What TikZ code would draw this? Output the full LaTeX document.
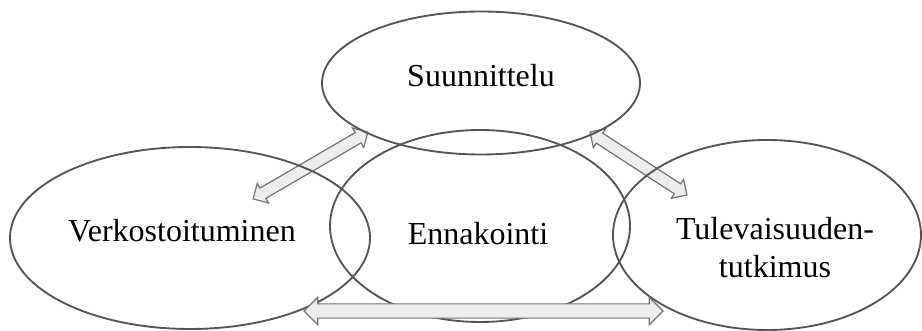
\documentclass[tikz,border=0pt]{standalone}
\usepackage{fontspec}
\setmainfont{Liberation Serif}
\usetikzlibrary{shapes.geometric,shapes.arrows,calc}
\definecolor{ringline}{RGB}{85,85,85}
\definecolor{arrowfill}{RGB}{237,237,237}
\definecolor{arrowline}{RGB}{115,115,115}
\tikzset{
  ring/.style={ellipse, draw=ringline, line width=1.4pt, inner sep=0pt},
  word/.style={font=\fontsize{24}{28.5}\selectfont, inner sep=0pt, align=center},
  linkarrow/.style={double arrow, draw=arrowline, fill=arrowfill, line width=0.9pt,
    inner xsep=0pt, inner ysep=#1, double arrow head extend=#1, minimum width=1pt}
}
\begin{document}
\begin{tikzpicture}[x=0.75pt,y=0.75pt,yscale=-1,xscale=1]
\useasboundingbox (0,0) rectangle (922,331);
% arrow end points
\coordinate (verk-tip) at (253,199);
\coordinate (suun-tipL) at (368,132);
\coordinate (suun-tipR) at (590,132);
\coordinate (tule-tip) at (687,195);
\coordinate (base-L) at (304,311);
\coordinate (base-R) at (663,311);
% diagonal arrows
\path let \p1 = ($(suun-tipL)-(verk-tip)$), \n1 = {veclen(\x1,\y1)}, \n2 = {atan2(\y1,\x1)} in
  node[linkarrow=4pt, rotate=-\n2, minimum height=\n1] (arrVS) at ($(verk-tip)!0.5!(suun-tipL)$) {};
\path let \p1 = ($(tule-tip)-(suun-tipR)$), \n1 = {veclen(\x1,\y1)}, \n2 = {atan2(\y1,\x1)} in
  node[linkarrow=4pt, rotate=-\n2, minimum height=\n1] (arrST) at ($(suun-tipR)!0.5!(tule-tip)$) {};
% ellipses
\node[ring, minimum width=238.5pt, minimum height=107.25pt] (suun) at (481,83) {};
\node[ring, minimum width=225pt, minimum height=144pt] (enna) at (480,226) {};
\node[ring, minimum width=270pt, minimum height=136.5pt] (verk) at (190,238) {};
\node[ring, minimum width=231pt, minimum height=142.5pt] (tule) at (767,235) {};
% texts
\node[word] (suun-txt) at (481,76) {Suunnittelu};
\node[word] (enna-txt) at (478,234) {Ennakointi};
\node[word] (verk-txt) at (182,231) {Verkostoituminen};
\node[word] (tule-txt) at (775,248) {Tulevaisuuden-\\tutkimus};
% bottom arrow
\path let \p1 = ($(base-R)-(base-L)$), \n1 = {veclen(\x1,\y1)} in
  node[linkarrow=4.9pt, minimum height=\n1] (arrVT) at ($(base-L)!0.5!(base-R)$) {};
\end{tikzpicture}
\end{document}
